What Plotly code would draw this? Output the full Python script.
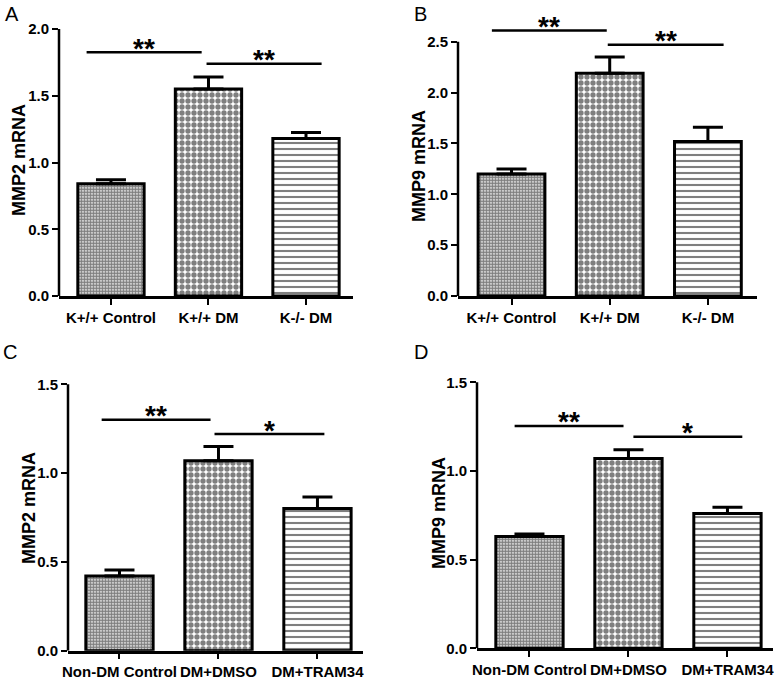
import plotly.graph_objects as go

categories_top = ["K+/+ Control", "K+/+ DM", "K-/- DM"]
categories_bottom = ["Non-DM Control", "DM+DMSO", "DM+TRAM34"]

mmp2_a = [0.84, 1.55, 1.18]
mmp2_a_err = [0.03, 0.09, 0.045]
mmp9_b = [1.20, 2.19, 1.52]
mmp9_b_err = [0.05, 0.16, 0.14]
mmp2_c = [0.42, 1.07, 0.80]
mmp2_c_err = [0.035, 0.08, 0.066]
mmp9_d = [0.63, 1.07, 0.76]
mmp9_d_err = [0.015, 0.05, 0.035]

sig_labels_a = ["**", "**"]
sig_levels_a = [1.825, 1.74]
sig_labels_b = ["**", "**"]
sig_levels_b = [2.61, 2.47]
sig_labels_c = ["**", "*"]
sig_levels_c = [1.30, 1.22]
sig_labels_d = ["**", "*"]
sig_levels_d = [1.254, 1.193]

panel_letters = ["A", "B", "C", "D"]
y_titles = ["MMP2 mRNA", "MMP9 mRNA", "MMP2 mRNA", "MMP9 mRNA"]

W, H = 783, 682
SANS = "Liberation Sans, Arial, Helvetica, sans-serif"

panels = [
    dict(cats=categories_top, vals=mmp2_a, err=mmp2_a_err, labels=sig_labels_a, levels=sig_levels_a,
         xpix=(59, 353), y0pix=296, toppix=20, ppu=133.5, xr=(-0.533, 2.482), ytop=2.0,
         br=[(-0.25, 0.93), (0.98, 2.16)], letter=(12, 14), ytitle=(19, 160)),
    dict(cats=categories_top, vals=mmp9_b, err=mmp9_b_err, labels=sig_labels_b, levels=sig_levels_b,
         xpix=(458, 757), y0pix=296, toppix=20, ppu=101.7, xr=(-0.545, 2.50), ytop=2.5,
         br=[(-0.2, 0.97), (0.98, 2.16)], letter=(420, 14), ytitle=(419, 166)),
    dict(cats=categories_bottom, vals=mmp2_c, err=mmp2_c_err, labels=sig_labels_c, levels=sig_levels_c,
         xpix=(68, 363), y0pix=650.7, toppix=370, ppu=177.6, xr=(-0.52, 2.46), ytop=1.5,
         br=[(-0.18, 0.92), (0.96, 2.07)], letter=(10, 352), ytitle=(29, 508)),
    dict(cats=categories_bottom, vals=mmp9_d, err=mmp9_d_err, labels=sig_labels_d, levels=sig_levels_d,
         xpix=(477, 773), y0pix=648.3, toppix=370, ppu=177.3, xr=(-0.53, 2.46), ytop=1.5,
         br=[(-0.15, 0.95), (1.05, 2.15)], letter=(421, 352), ytitle=(439, 513)),
]

patterns = [
    dict(shape=".", size=3, solidity=0.75, fgcolor="black", bgcolor="white"),
    dict(shape=".", size=6, solidity=0.62, fgcolor="black", bgcolor="white"),
    dict(shape="-", size=6, solidity=0.35, fgcolor="black", bgcolor="white"),
]

fig = go.Figure()
layout = dict(width=W, height=H, margin=dict(l=0, r=0, t=0, b=0), paper_bgcolor="white",
              plot_bgcolor="white", showlegend=False, shapes=[], annotations=[])

tickfont = dict(family=SANS, size=15, color="black", weight="bold")

for k, p in enumerate(panels):
    n = k + 1
    xa = "x" if n == 1 else f"x{n}"
    ya = "y" if n == 1 else f"y{n}"
    xkey = "xaxis" if n == 1 else f"xaxis{n}"
    ykey = "yaxis" if n == 1 else f"yaxis{n}"
    ymax = (p["y0pix"] - p["toppix"]) / p["ppu"]
    for i in range(3):
        fig.add_trace(go.Bar(
            x=[i], y=[p["vals"][i]], width=0.68, xaxis=xa, yaxis=ya,
            marker=dict(color="black", line=dict(color="black", width=3), pattern=patterns[i]),
            error_y=dict(type="data", array=[p["err"][i]], arrayminus=[0], symmetric=False,
                         color="black", thickness=3, width=15),
        ))
    layout[xkey] = dict(domain=[p["xpix"][0] / W, p["xpix"][1] / W], range=list(p["xr"]),
                        anchor=ya, tickmode="array", tickvals=[0, 1, 2], ticktext=p["cats"],
                        showline=True, linecolor="black", linewidth=2.5, ticks="outside",
                        ticklen=6, tickwidth=2, tickcolor="black", showgrid=False, zeroline=False,
                        tickangle=0, automargin=False, tickfont=tickfont)
    layout[ykey] = dict(domain=[1 - p["y0pix"] / H, 1 - p["toppix"] / H], range=[0, ymax],
                        anchor=xa, tickmode="array",
                        tickvals=[v * 0.5 for v in range(int(p["ytop"] / 0.5) + 1)],
                        tickformat=".1f", showline=False, ticks="outside", ticklen=6, tickwidth=2,
                        tickcolor="black", showgrid=False, zeroline=False, automargin=False,
                        tickfont=tickfont)
    # y-axis line up to the top tick
    layout["shapes"].append(dict(type="line", xref=f"{xa} domain", yref=ya, x0=0, x1=0,
                                 y0=0, y1=p["ytop"], line=dict(color="black", width=2.5)))
    # significance brackets
    for (bx0, bx1), lvl, lab in zip(p["br"], p["levels"], p["labels"]):
        layout["shapes"].append(dict(type="line", xref=xa, yref=ya, x0=bx0, x1=bx1, y0=lvl, y1=lvl,
                                     line=dict(color="black", width=2.5)))
        layout["annotations"].append(dict(x=(bx0 + bx1) / 2, y=lvl, xref=xa, yref=ya, text=lab,
                                          showarrow=False, yanchor="middle", yshift=4,
                                          font=dict(family=SANS, size=28, color="black", weight="bold")))
    # panel letter
    layout["annotations"].append(dict(x=p["letter"][0] / W, y=1 - p["letter"][1] / H, xref="paper",
                                      yref="paper", text=panel_letters[k], showarrow=False,
                                      xanchor="center", yanchor="middle",
                                      font=dict(family=SANS, size=20, color="black")))
    # y title
    layout["annotations"].append(dict(x=p["ytitle"][0] / W, y=1 - p["ytitle"][1] / H, xref="paper",
                                      yref="paper", text=y_titles[k], showarrow=False, textangle=-90,
                                      xanchor="center", yanchor="middle",
                                      font=dict(family=SANS, size=18, color="black", weight="bold")))

fig.update_layout(**layout)
fig.write_html("out.html", config={"displayModeBar": False},
               post_script="document.body.style.margin='0';document.body.style.overflow='hidden';")
